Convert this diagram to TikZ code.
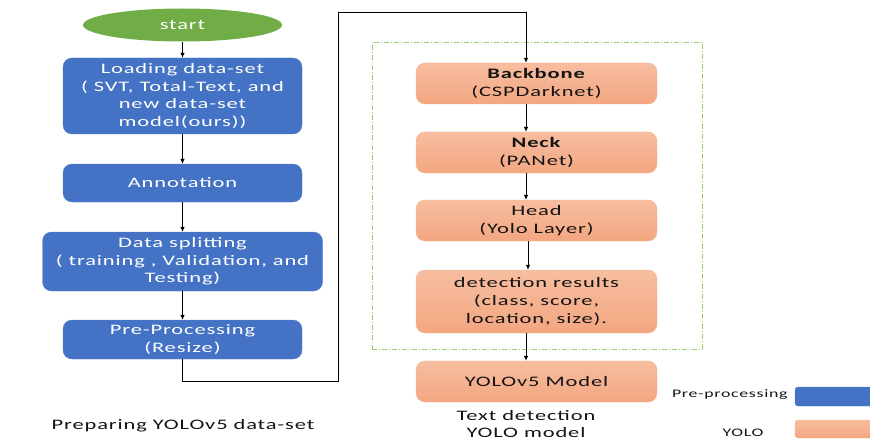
\documentclass[tikz,border=0pt]{standalone}
\usepackage{fontspec}
\setmainfont{Carlito}[FakeStretch=1.55,LetterSpace=6]
\usetikzlibrary{arrows.meta,calc,shapes.geometric}
\definecolor{bluebox}{RGB}{68,114,196}
\definecolor{blueline}{RGB}{90,130,205}
\definecolor{greenstart}{RGB}{112,173,71}
\definecolor{orangetop}{RGB}{247,190,160}
\definecolor{orangebot}{RGB}{243,166,128}
\definecolor{orangeline}{RGB}{246,180,145}
\definecolor{dashgreen}{RGB}{150,205,110}
\definecolor{darktext}{RGB}{20,20,20}
\tikzset{
  bluestep/.style={draw=blueline, fill=bluebox, rounded corners=9pt, text=white, align=center,
    minimum width=239pt, inner sep=0pt, font=\fontsize{14.5}{17.7}\selectfont},
  orangestep/.style={draw=orangeline, top color=orangetop, bottom color=orangebot, rounded corners=9pt,
    text=darktext, align=center, minimum width=241pt, inner sep=0pt, font=\fontsize{14.5}{17.7}\selectfont},
  conn/.style={draw=black, line width=0.8pt, -{Latex[length=5pt,width=4.5pt]}},
  caption/.style={text=darktext, align=center, font=\fontsize{14.5}{17.7}\selectfont},
  legend/.style={text=darktext, font=\fontsize{11.5}{14}\selectfont},
}
\begin{document}
\begin{tikzpicture}[x=1pt,y=-1pt]
\useasboundingbox (0,0) rectangle (870,441);
% left column
\node[ellipse, fill=greenstart, text=white, minimum width=199pt, minimum height=33pt, inner sep=0pt,
  font=\fontsize{14.5}{17.7}\selectfont] (start) at (182.5,25) {start};
\node[bluestep, minimum height=76pt] (load) at (182.5,96) {Loading data-set\\( SVT, Total-Text, and\\new data-set\\model(ours))};
\node[bluestep, minimum height=38pt] (annot) at (182.5,183) {Annotation};
\node[bluestep, minimum width=280pt, minimum height=59pt] (split) at (182.5,261.5) {Data splitting\\( training , Validation, and\\Testing)};
\node[bluestep, minimum height=39pt] (pre) at (182.5,339.5) {Pre-Processing\\(Resize)};
\node[caption] (cap1) at (183,426) {Preparing YOLOv5 data-set};
\draw[conn] (start.south) -- (load.north);
\draw[conn] (load.south) -- (annot.north);
\draw[conn] (annot.south) -- (split.north);
\draw[conn] (split.south) -- (pre.north);
% dashed group
\node[draw=dashgreen, dash pattern=on 5pt off 2pt on 1pt off 2pt, line width=0.6pt,
  minimum width=330pt, minimum height=307pt, inner sep=0pt] (grp) at (537,195.5) {};
% right column
\node[orangestep, minimum height=41pt] (back) at (536.5,83.5) {\textbf{Backbone}\\(CSPDarknet)};
\node[orangestep, minimum height=41pt] (neck) at (536.5,152.5) {\textbf{Neck}\\(PANet)};
\node[orangestep, minimum height=41pt] (head) at (536.5,220.5) {Head\\(Yolo Layer)};
\node[orangestep, minimum height=63pt] (det) at (536.5,301.5) {detection results\\(class, score,\\location, size).};
\node[orangestep, minimum height=41pt] (yolo) at (536.5,381.5) {YOLOv5 Model};
\node[caption] (cap2) at (526,424) {Text detection\\YOLO model};
\coordinate (ax) at (526,0);
\coordinate (bx) at (528,0);
\draw[conn] (back.south -| ax) -- (neck.north -| ax);
\draw[conn] (neck.south -| ax) -- (head.north -| ax);
\draw[conn] (head.south -| bx) -- (det.north -| bx);
\draw[conn] (det.south -| ax) -- (yolo.north -| ax);
% long connector
\coordinate (c1) at (338,381);
\coordinate (c2) at (338,12);
\draw[conn] (pre.south) |- (c1) -- (c2) -| (back.north -| ax);
% legend
\node[draw=blueline, fill=bluebox, rounded corners=3pt, minimum width=80pt, minimum height=19pt, inner sep=0pt] (lb) at (835,396.5) {};
\node[draw=orangeline, top color=orangetop, bottom color=orangebot, rounded corners=3pt, minimum width=80pt, minimum height=18pt, inner sep=0pt] (lo) at (835,429) {};
\node[legend, anchor=east] (lbt) at (791,395) {Pre-processing};
\node[legend] (lot) at (743,433) {YOLO};
\end{tikzpicture}
\end{document}
